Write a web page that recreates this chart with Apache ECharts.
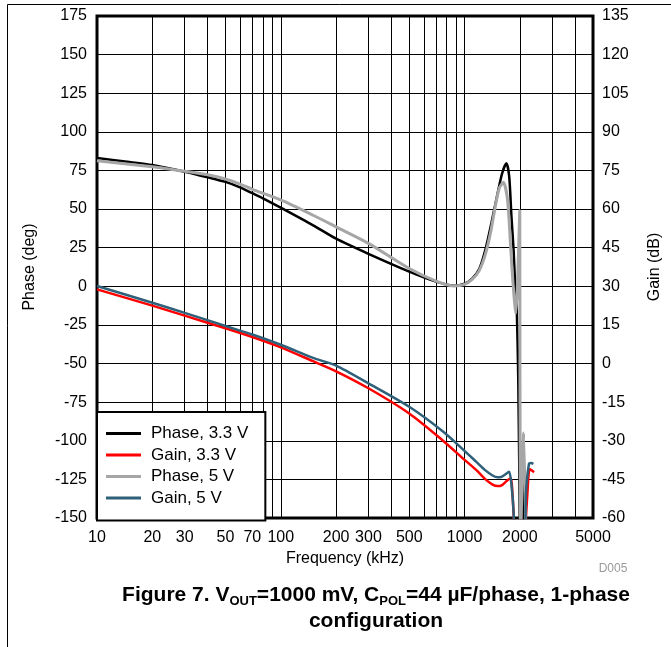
<!DOCTYPE html>
<html>
<head>
<meta charset="utf-8">
<script src="https://cdn.jsdelivr.net/npm/echarts@6/dist/echarts.min.js"></script>
<style>
  html, body { margin: 0; padding: 0; background: #fff; }
  #chart { width: 671px; height: 647px; }
</style>
</head>
<body>
<div id="chart"></div>
<script>
// frequency in kHz, phase in deg (left axis), gain in dB (right axis)
var phase33Freq = [10, 15, 20, 30, 40, 50, 60, 70, 80, 100, 150, 200, 300, 500, 700, 880, 1000, 1100, 1200, 1300, 1400, 1500, 1600, 1690, 1750, 1800, 1850, 1880, 1900, 1920, 1960, 2000, 2030, 2080, 2120];
var phase33 = [83, 80.5, 78.5, 74.2, 70.6, 67.6, 64.1, 60.3, 57, 50.9, 39.5, 30.8, 21, 9.5, 3, 0.3, 1.7, 5, 11, 24, 41, 58, 73, 79.6, 71, 45, 23, 4, -8, -11, -60, -160, -300, -110, -300];

var gain33Freq = [10, 20, 30, 50, 70, 100, 150, 200, 300, 500, 750, 1000, 1160, 1300, 1420, 1514, 1600, 1700, 1786, 1820, 1860, 1900, 2100, 2150, 2200, 2256, 2320, 2390];
var gain33 = [28.8, 22.5, 18.6, 13.7, 10.3, 6.3, 0.9, -3.0, -9.6, -19.4, -29.5, -37.4, -41.4, -45, -47, -47.6, -47.2, -45.5, -44.6, -50, -62, -75, -75, -62, -50, -41.1, -41.5, -42.2];

var phase5Freq = [10, 20, 30, 40, 50, 60, 70, 100, 150, 200, 300, 500, 700, 880, 1000, 1100, 1200, 1300, 1394, 1480, 1545, 1626, 1714, 1786, 1830, 1870, 1900, 1940, 1975, 1998, 2012, 2100, 2180];
var phase5 = [81.3, 77.4, 74.5, 72.2, 69.5, 66.2, 62.8, 55.9, 46, 38.5, 27.8, 11.5, 3.4, 0.2, 1.2, 4.5, 10, 21, 36.4, 53.7, 63.5, 67.3, 55.8, 23.5, 4, -10, -17.7, 0, 30, 49, -170, -95, -200];

var gain5Freq = [10, 20, 30, 50, 70, 100, 150, 200, 300, 500, 766, 1000, 1160, 1300, 1420, 1514, 1600, 1700, 1750, 1800, 1850, 1880, 2100, 2160, 2243, 2300, 2370];
var gain5 = [30.1, 23.6, 19.7, 14.6, 11.3, 7.3, 2.2, -0.8, -7.7, -16.8, -26.5, -33.9, -38.2, -41.5, -43.5, -44.2, -43.9, -42.6, -42, -47, -58, -75, -75, -50, -38.8, -38.6, -39];

var xLabelValues = [10, 20, 30, 50, 70, 100, 200, 300, 500, 1000, 2000, 5000];
var xGridValues = [10, 20, 30, 40, 50, 60, 70, 80, 90, 100, 200, 300, 400, 500, 600, 700, 800, 900, 1000, 2000, 3000, 4000, 5000];

var seriesNames = ['Phase, 3.3 V', 'Gain, 3.3 V', 'Phase, 5 V', 'Gain, 5 V'];

function pairs(f, v) {
  return f.map(function (x, i) { return [x, v[i]]; });
}

var font = '"Liberation Sans", Arial, sans-serif';
var chart = echarts.init(document.getElementById('chart'));

var option = {
  animation: false,
  backgroundColor: '#fff',
  textStyle: { fontFamily: font },
  grid: {
    left: 97, right: 73, top: 16, bottom: 129,
    show: true, borderColor: '#000', borderWidth: 3, backgroundColor: 'transparent'
  },
  legend: {
    data: seriesNames,
    orient: 'vertical',
    left: 97, top: 412,
    icon: 'rect',
    itemWidth: 35, itemHeight: 3, itemGap: 4.5,
    padding: [13, 17, 14, 9],
    backgroundColor: '#fff',
    borderColor: '#000', borderWidth: 2, borderRadius: 0,
    textStyle: { fontSize: 17, color: '#000', fontFamily: font, lineHeight: 16, padding: [0, 0, 0, 5] }
  },
  xAxis: {
    type: 'log', logBase: 10, min: 10, max: 5000,
    name: 'Frequency (kHz)', nameLocation: 'middle', nameGap: 32,
    nameTextStyle: { fontSize: 16, color: '#000', fontFamily: font },
    axisLine: { show: false },
    axisTick: { show: false, customValues: xGridValues },
    axisLabel: {
      customValues: xLabelValues, fontSize: 16, color: '#000', margin: 12,
      formatter: function (v) { return String(Math.round(v)); }
    },
    splitLine: { show: true, lineStyle: { color: '#000', width: 1 } },
    minorSplitLine: { show: false }
  },
  yAxis: [
    {
      type: 'value', min: -150, max: 175, interval: 25,
      name: 'Phase (deg)', nameLocation: 'middle', nameGap: 59, nameRotate: 90,
      nameTextStyle: { fontSize: 16, color: '#000', fontFamily: font },
      axisLine: { show: false }, axisTick: { show: false },
      axisLabel: { fontSize: 16, color: '#000', margin: 10 },
      splitLine: { show: true, lineStyle: { color: '#000', width: 1 } }
    },
    {
      type: 'value', min: -60, max: 135, interval: 15,
      name: 'Gain (dB)', nameLocation: 'middle', nameGap: 54, nameRotate: 90,
      nameTextStyle: { fontSize: 16, color: '#000', fontFamily: font },
      axisLine: { show: false }, axisTick: { show: false },
      axisLabel: { fontSize: 16, color: '#000', margin: 9 },
      splitLine: { show: false }
    }
  ],
  series: [
    {
      name: seriesNames[0], type: 'line', yAxisIndex: 0, symbol: 'none', smooth: 0.25,
      data: pairs(phase33Freq, phase33), color: '#000',
      lineStyle: { color: '#000', width: 2.5 }
    },
    {
      name: seriesNames[1], type: 'line', yAxisIndex: 1, symbol: 'none', smooth: 0.25,
      data: pairs(gain33Freq, gain33), color: '#ff0000',
      lineStyle: { color: '#ff0000', width: 2.5 }
    },
    {
      name: seriesNames[2], type: 'line', yAxisIndex: 0, symbol: 'none', smooth: 0.25,
      data: pairs(phase5Freq, phase5), color: '#a6a6a6',
      lineStyle: { color: '#a6a6a6', width: 3 }
    },
    {
      name: seriesNames[3], type: 'line', yAxisIndex: 1, symbol: 'none', smooth: 0.25,
      data: pairs(gain5Freq, gain5), color: '#2e6079',
      lineStyle: { color: '#2e6079', width: 2.5 }
    }
  ],
  graphic: [
    { type: 'line', silent: true, shape: { x1: 7.5, y1: 4.5, x2: 671, y2: 4.5 }, style: { stroke: '#000', lineWidth: 1 } },
    { type: 'line', silent: true, shape: { x1: 7.5, y1: 4.5, x2: 7.5, y2: 647 }, style: { stroke: '#000', lineWidth: 1 } },
    {
      type: 'text', x: 613, y: 569,
      style: { text: 'D005', fill: '#9a9a9a', font: '12px ' + font, align: 'center', verticalAlign: 'middle' }
    },
    {
      type: 'text', x: 376, y: 608,
      style: {
        text: '{b|Figure 7. V}{s|OUT}{b|=1000 mV, C}{s|POL}{b|=44 µF/phase, 1-phase}\n{b|configuration}',
        align: 'center', verticalAlign: 'middle', fill: '#000',
        rich: {
          b: { fontSize: 21, fontWeight: 'bold', fontFamily: font, lineHeight: 26, fill: '#000' },
          s: { fontSize: 13, fontWeight: 'bold', fontFamily: font, lineHeight: 26, verticalAlign: 'bottom', fill: '#000' }
        }
      }
    }
  ]
};

chart.setOption(option);
</script>
</body>
</html>
